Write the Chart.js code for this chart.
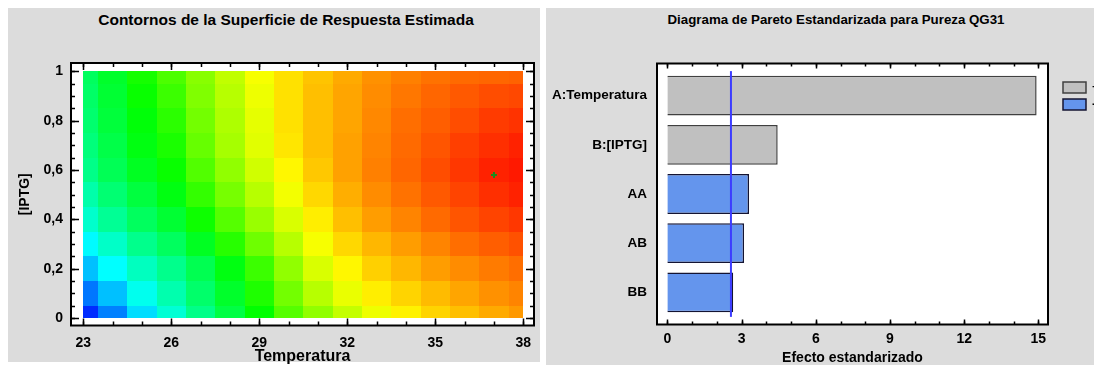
<!DOCTYPE html>
<html>
<head>
<meta charset="utf-8">
<script src="https://cdn.jsdelivr.net/npm/chart.js@4.4.1/dist/chart.umd.min.js"></script>
<style>
  html, body { margin: 0; padding: 0; background: #fff; }
  body { width: 1094px; height: 365px; position: relative; overflow: hidden;
         font-family: "Liberation Sans", Arial, sans-serif; }
  .panel { position: absolute; background: #dcdcdc; }
  #panelIzq { left: 8px; top: 8px; width: 532px; height: 354px; }
  #panelDer { left: 546px; top: 8px; width: 548px; height: 357px; }
  .titulo { position: absolute; top: 11px; line-height: 18px; font-weight: bold; color: #000;
            white-space: nowrap; transform: translateX(-50%); }
  canvas { position: absolute; top: 0; }
</style>
</head>
<body>
<div class="panel" id="panelIzq"></div>
<div class="panel" id="panelDer"></div>
<div class="titulo" style="left:286px; font-size:15.5px">Contornos de la Superficie de Respuesta Estimada</div>
<div class="titulo" style="left:836px; font-size:13.3px">Diagrama de Pareto Estandarizada para Pureza QG31</div>
<canvas id="contornos" width="541" height="365" style="left:0"></canvas>
<canvas id="pareto" width="548" height="365" style="left:546px"></canvas>
<script>
const temperatura = [23, 24, 25, 26, 27, 28, 29, 30, 31, 32, 33, 34, 35, 36, 37, 38];
const iptg = [0, 0.1, 0.2, 0.3, 0.4, 0.5, 0.6, 0.7, 0.8, 0.9, 1];
const pureza = [
  [4.2, 12.5, 21.7, 29.2, 36.7, 43.3, 50.0, 58.3, 64.2, 69.2, 73.3, 76.3, 79.2, 81.3, 83.3, 85.0],
  [11.7, 18.8, 26.7, 32.9, 39.6, 45.8, 52.9, 61.3, 67.9, 72.9, 76.7, 79.2, 81.7, 83.8, 85.8, 87.1],
  [18.8, 25.0, 31.3, 36.3, 42.1, 48.3, 55.8, 64.2, 71.3, 75.8, 79.6, 82.1, 84.6, 86.3, 87.9, 89.2],
  [24.6, 30.4, 36.3, 40.8, 46.7, 53.8, 60.8, 67.9, 74.2, 78.8, 82.1, 84.6, 87.1, 89.2, 90.8, 92.1],
  [30.0, 35.4, 40.8, 45.0, 51.3, 58.3, 65.0, 71.3, 76.7, 81.3, 84.6, 87.1, 89.6, 91.7, 93.3, 94.6],
  [33.3, 38.8, 43.8, 48.3, 55.0, 61.7, 67.9, 73.8, 78.8, 82.9, 86.3, 88.8, 91.3, 93.3, 95.4, 96.7],
  [36.7, 41.7, 46.7, 50.8, 57.9, 64.2, 70.4, 75.8, 80.4, 84.2, 87.5, 90.0, 92.5, 94.6, 96.7, 97.5],
  [37.9, 42.9, 48.3, 52.5, 60.0, 66.3, 72.1, 77.5, 81.3, 84.2, 87.1, 89.6, 91.7, 93.8, 95.4, 96.7],
  [39.2, 44.2, 49.2, 54.2, 61.3, 67.1, 72.5, 77.9, 81.3, 83.8, 86.7, 89.2, 90.8, 92.5, 94.2, 95.0],
  [40.0, 45.0, 50.8, 55.8, 62.5, 67.9, 73.3, 77.9, 81.3, 83.8, 86.3, 88.3, 90.0, 91.3, 92.5, 92.9],
  [40.8, 45.8, 52.1, 57.5, 63.3, 68.8, 74.2, 77.9, 80.8, 83.3, 85.8, 87.5, 88.8, 89.6, 90.0, 90.4]
];
const puntoOptimo = [{ x: 37, y: 0.58 }];
const ticksTemperatura = [23, 26, 29, 32, 35, 38];
const ticksIptg = [0, 0.2, 0.4, 0.6, 0.8, 1];

// pareto estandarizado
const efectos = ['A:Temperatura', 'B:[IPTG]', 'AA', 'AB', 'BB'];
const efectosValor = [14.93, 4.46, 3.30, 3.10, 2.66];
const efectosSigno = ['+', '+', '-', '-', '-'];
const valorCritico = 2.57;
const ticksEfecto = [0, 3, 6, 9, 12, 15];

const GRIS = '#c0c0c0', GRIS_BORDE = '#404040';
const AZUL = '#6495ed', AZUL_BORDE = '#141432';

Chart.defaults.font.family = '"Liberation Sans", Arial, sans-serif';
Chart.defaults.font.weight = 'bold';
Chart.defaults.color = '#000';

const colorPureza = v => `hsl(${240 - 2.4 * v}, 100%, 50%)`;

const fondo = {
  id: 'fondo',
  beforeDraw(chart) {
    const { ctx, chartArea: a } = chart;
    ctx.save();
    ctx.fillStyle = '#fff';
    ctx.fillRect(a.left, a.top, a.width, a.height);
    ctx.restore();
  }
};

// cada celda va de medio punto a medio punto, recortada al rango medido
const bordes = vals => vals.map((v, i) => [
  i === 0 ? v : (vals[i - 1] + v) / 2,
  i === vals.length - 1 ? v : (v + vals[i + 1]) / 2
]);

const superficie = {
  id: 'superficie',
  beforeDatasetsDraw(chart) {
    const { ctx, scales: { x, y } } = chart;
    const bx = bordes(temperatura), by = bordes(iptg);
    ctx.save();
    pureza.forEach((fila, j) => fila.forEach((v, i) => {
      const x0 = Math.round(x.getPixelForValue(bx[i][0]));
      const x1 = Math.round(x.getPixelForValue(bx[i][1]));
      const y0 = Math.round(y.getPixelForValue(by[j][1]));
      const y1 = Math.round(y.getPixelForValue(by[j][0]));
      ctx.fillStyle = colorPureza(v);
      ctx.fillRect(x0, y0, x1 - x0, y1 - y0);
    }));
    ctx.restore();
  }
};

// marco y marcas hacia adentro (mayores y menores) en los cuatro lados
const marco = {
  id: 'marco',
  afterDraw(chart, args, opts) {
    const { ctx, chartArea: a, scales } = chart;
    ctx.save();
    ctx.strokeStyle = '#000';
    ctx.lineWidth = 1.5;
    (opts.ejes || []).forEach(e => {
      const s = scales[e.id];
      const marcas = s.ticks.map(t => [t.value, e.mayor]);
      for (let k = 0; e.desde + k * e.paso <= e.hasta + 1e-9; k++) {
        marcas.push([e.desde + k * e.paso, e.menor]);
      }
      marcas.forEach(([v, largo]) => {
        const p = Math.round(s.getPixelForValue(v)) + 0.5;
        ctx.beginPath();
        if (s.isHorizontal()) {
          ctx.moveTo(p, a.bottom); ctx.lineTo(p, a.bottom - largo);
          ctx.moveTo(p, a.top); ctx.lineTo(p, a.top + largo);
        } else {
          ctx.moveTo(a.left, p); ctx.lineTo(a.left + largo, p);
          ctx.moveTo(a.right, p); ctx.lineTo(a.right - largo, p);
        }
        ctx.stroke();
      });
    });
    ctx.lineWidth = 2;
    ctx.strokeRect(a.left, a.top, a.width, a.height);
    ctx.restore();
  }
};

const lineaCritica = {
  id: 'lineaCritica',
  afterDatasetsDraw(chart) {
    const { ctx, scales: { x, y } } = chart;
    const px = x.getPixelForValue(valorCritico);
    ctx.save();
    ctx.strokeStyle = '#3c3cff';
    ctx.lineWidth = 2;
    ctx.beginPath();
    ctx.moveTo(px, y.getPixelForValue(-0.5));
    ctx.lineTo(px, y.getPixelForValue(efectos.length - 0.5));
    ctx.stroke();
    ctx.restore();
  }
};

const leyenda = {
  id: 'leyenda',
  afterDraw(chart, args, opts) {
    const { ctx, chartArea: a } = chart;
    ctx.save();
    opts.items.forEach((it, k) => {
      const y = a.top + 18.5 + k * 17;
      ctx.fillStyle = it.fill;
      ctx.fillRect(a.right + 15, y, 23, 11);
      ctx.strokeStyle = it.border;
      ctx.lineWidth = 1.5;
      ctx.strokeRect(a.right + 15, y, 23, 11);
      ctx.fillStyle = '#000';
      ctx.font = 'bold 13px "Liberation Sans", Arial, sans-serif';
      ctx.textBaseline = 'middle';
      ctx.fillText(it.label, a.right + 44, y + 5.5);
    });
    ctx.restore();
  }
};

new Chart(document.getElementById('contornos'), {
  type: 'scatter',
  data: {
    datasets: [{
      data: puntoOptimo,
      pointStyle: 'cross',
      pointRadius: 3,
      borderWidth: 2,
      borderColor: '#1e8c1e',
      backgroundColor: '#1e8c1e'
    }]
  },
  options: {
    responsive: false,
    animation: false,
    events: [],
    layout: { padding: { top: 63, left: 17, right: 7, bottom: 0 } },
    scales: {
      x: {
        type: 'linear',
        min: 22.58,
        max: 38.365,
        grid: { display: false, drawTicks: false },
        border: { display: false },
        afterBuildTicks: s => { s.ticks = ticksTemperatura.map(v => ({ value: v })); },
        afterFit: s => { s.height = 39.5; },
        ticks: { padding: 9, autoSkip: false, maxRotation: 0, font: { size: 14 }, callback: v => String(v) },
        title: { display: true, text: 'Temperatura', padding: 0, font: { size: 16, lineHeight: 1 } }
      },
      y: {
        type: 'linear',
        min: -0.03,
        max: 1.034,
        grid: { display: false, drawTicks: false },
        border: { display: false },
        afterBuildTicks: s => { s.ticks = ticksIptg.map(v => ({ value: v })); },
        afterFit: s => { s.width = 54; },
        ticks: { padding: 8, autoSkip: false, font: { size: 14 }, callback: v => String(v).replace('.', ',') },
        title: { display: true, text: '[IPTG]', padding: 0, font: { size: 14 } }
      }
    },
    plugins: {
      legend: { display: false },
      tooltip: { enabled: false },
      marco: {
        ejes: [
          { id: 'x', mayor: 7, menor: 4, desde: 23, hasta: 38, paso: 1 },
          { id: 'y', mayor: 8, menor: 4, desde: 0, hasta: 1, paso: 0.05 }
        ]
      }
    }
  },
  plugins: [fondo, superficie, marco]
});

new Chart(document.getElementById('pareto'), {
  type: 'bar',
  data: {
    datasets: [{
      data: efectos.map((e, i) => ({ x: efectosValor[i], y: i })),
      backgroundColor: efectosSigno.map(s => s === '+' ? GRIS : AZUL),
      borderColor: efectosSigno.map(s => s === '+' ? GRIS_BORDE : AZUL_BORDE),
      borderWidth: 1.5,
      barPercentage: 0.81,
      categoryPercentage: 1
    }]
  },
  options: {
    indexAxis: 'y',
    responsive: false,
    animation: false,
    events: [],
    layout: { padding: { top: 63.5, left: 0, right: 46, bottom: 0 } },
    scales: {
      x: {
        type: 'linear',
        min: -0.42,
        max: 15.39,
        grid: { display: false, drawTicks: false },
        border: { display: false },
        afterBuildTicks: s => { s.ticks = ticksEfecto.map(v => ({ value: v })); },
        afterFit: s => { s.height = 40.5; },
        ticks: { padding: 6, autoSkip: false, maxRotation: 0, font: { size: 14 }, callback: v => String(v) },
        title: { display: true, text: 'Efecto estandarizado', padding: 0, font: { size: 14, lineHeight: 1 } }
      },
      y: {
        type: 'linear',
        reverse: true,
        offset: false,
        min: -0.655,
        max: 4.655,
        grid: { display: false, drawTicks: false },
        border: { display: false },
        afterBuildTicks: s => { s.ticks = efectos.map((e, i) => ({ value: i })); },
        afterFit: s => { s.width = 111; },
        ticks: { padding: 10, autoSkip: false, font: { size: 13.5 }, callback: v => efectos[v] }
      }
    },
    plugins: {
      legend: { display: false },
      tooltip: { enabled: false },
      marco: { ejes: [{ id: 'x', mayor: 5, menor: 3, desde: 0, hasta: 15, paso: 1 }] },
      leyenda: {
        items: [
          { label: '+', fill: GRIS, border: GRIS_BORDE },
          { label: '-', fill: AZUL, border: AZUL_BORDE }
        ]
      }
    }
  },
  plugins: [fondo, lineaCritica, marco, leyenda]
});
</script>
</body>
</html>
